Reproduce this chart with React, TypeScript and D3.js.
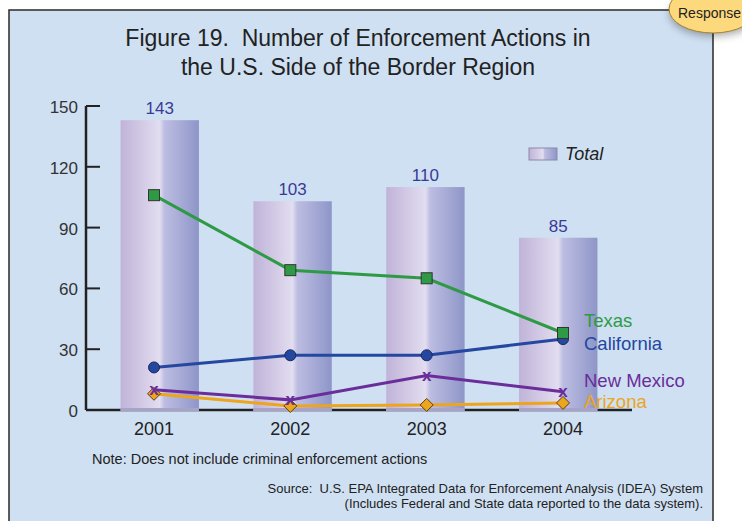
import React from "react";
import * as d3 from "d3";

const years = ["2001", "2002", "2003", "2004"];
const totals = [143, 103, 110, 85];
const texas = [106, 69, 65, 38];
const california = [21, 27, 27, 35];
const newMexico = [10, 5, 17, 9];
const arizona = [8, 2, 2.5, 3.5];
const yTicks = [0, 30, 60, 90, 120, 150];

const W = 742;
const H = 521;
const FONT = "'Liberation Sans', Arial, sans-serif";

const series = [
  { name: "Texas", values: texas, color: "#2e9a45", marker: "square", ly: 327 },
  { name: "California", values: california, color: "#2447a0", marker: "circle", ly: 350 },
  { name: "New Mexico", values: newMexico, color: "#6a2d9a", marker: "x", ly: 387 },
  { name: "Arizona", values: arizona, color: "#eca51c", marker: "diamond", ly: 408 },
];

export default function App() {
  const y = d3.scaleLinear().domain([0, 150]).range([410, 106]);
  const xBand = d3.scaleBand().domain(years).range([94, 624]).paddingInner(0.41).paddingOuter(0.2);
  const xPt = d3.scalePoint().domain(years).range([154, 563]);
  const line = d3
    .line<number>()
    .x((_, i) => xPt(years[i]) as number)
    .y((d) => y(d));

  const marker = (type: string, cx: number, cy: number, color: string, key: string) => {
    if (type === "square")
      return <rect key={key} x={cx - 5.5} y={cy - 5.5} width={11} height={11} fill={color} stroke="#333" strokeWidth={1} />;
    if (type === "circle")
      return <circle key={key} cx={cx} cy={cy} r={5.5} fill={color} stroke="#1a2a5a" strokeWidth={1} />;
    if (type === "diamond")
      return (
        <path key={key} d={`M${cx},${cy - 6.5}L${cx + 6.5},${cy}L${cx},${cy + 6.5}L${cx - 6.5},${cy}Z`} fill={color} stroke="#5a4010" strokeWidth={1} />
      );
    return (
      <text key={key} x={cx} y={cy + 5} textAnchor="middle" fontFamily={FONT} fontWeight="bold" fontSize={17} fill={color}>
        x
      </text>
    );
  };

  return (
    <svg width={W} height={H} style={{ position: "absolute", left: 0, top: 0 }}>
      <defs>
        <linearGradient id="barGrad" x1="0" x2="1" y1="0" y2="0">
          <stop offset="0" stopColor="#c0b3d8" />
          <stop offset="0.5" stopColor="#e2ddf0" />
          <stop offset="0.56" stopColor="#bdbde2" />
          <stop offset="1" stopColor="#8e96c8" />
        </linearGradient>
        <filter id="blur" x="-50%" y="-50%" width="200%" height="200%">
          <feGaussianBlur stdDeviation="4" />
        </filter>
      </defs>
      <rect x={0} y={0} width={W} height={H} fill="#ffffff" />
      <rect x={9} y={10} width={704} height={H} fill="#cfe0f2" stroke="#2a2a2a" strokeWidth={1.5} />

      <text x={358} y={46} textAnchor="middle" fontFamily={FONT} fontSize={23} fill="#222" style={{ whiteSpace: "pre" }}>
        Figure 19.  Number of Enforcement Actions in
      </text>
      <text x={358} y={75} textAnchor="middle" fontFamily={FONT} fontSize={23} fill="#222">
        the U.S. Side of the Border Region
      </text>

      {/* axes */}
      <line x1={86} x2={632} y1={y(0)} y2={y(0)} stroke="#222" strokeWidth={2.5} />
      <line x1={86} x2={86} y1={y(150)} y2={y(0)} stroke="#222" strokeWidth={2.5} />
      {yTicks.map((t) => (
        <g key={t}>
          <line x1={86} x2={100} y1={y(t)} y2={y(t)} stroke="#222" strokeWidth={2} />
          <text x={78} y={y(t) + 7} textAnchor="end" fontFamily={FONT} fontSize={17} fill="#333">
            {t}
          </text>
        </g>
      ))}

      {/* bars */}
      {years.map((yr, i) => (
        <g key={yr}>
          <rect x={xBand(yr)} y={y(totals[i])} width={xBand.bandwidth()} height={y(0) - y(totals[i]) + 1} fill="url(#barGrad)" />
          <rect x={xBand(yr)} y={y(0) - 2} width={xBand.bandwidth()} height={3} fill="#a9a3c9" />
          <text x={(xBand(yr) as number) + xBand.bandwidth() / 2} y={y(totals[i]) - 6} textAnchor="middle" fontFamily={FONT} fontSize={17} fill="#3a3a98">
            {totals[i]}
          </text>
        </g>
      ))}

      {/* year labels */}
      {years.map((yr) => (
        <text key={yr} x={xPt(yr)} y={435} textAnchor="middle" fontFamily={FONT} fontSize={18} fill="#222">
          {yr}
        </text>
      ))}

      {/* lines */}
      {[...series].reverse().map((s) => (
        <g key={s.name}>
          <path d={line(s.values) as string} fill="none" stroke={s.color} strokeWidth={3} />
          {s.values.map((v, i) => marker(s.marker, xPt(years[i]) as number, y(v), s.color, s.name + i))}
        </g>
      ))}
      {series.map((s) => (
        <text key={s.name} x={584} y={s.ly} fontFamily={FONT} fontSize={18.5} fill={s.color}>
          {s.name}
        </text>
      ))}

      {/* legend */}
      <rect x={529} y={148} width={28} height={12} fill="url(#barGrad)" stroke="#8a8aa8" strokeWidth={1} />
      <text x={565} y={160} fontFamily={FONT} fontStyle="italic" fontSize={18} fill="#222">
        Total
      </text>

      <text x={92} y={464} fontFamily={FONT} fontSize={14.5} fill="#222">
        Note: Does not include criminal enforcement actions
      </text>
      <text x={703} y={493} textAnchor="end" fontFamily={FONT} fontSize={13} fill="#222" style={{ whiteSpace: "pre" }}>
        Source:  U.S. EPA Integrated Data for Enforcement Analysis (IDEA) System
      </text>
      <text x={703} y={508} textAnchor="end" fontFamily={FONT} fontSize={13} fill="#222">
        (Includes Federal and State data reported to the data system).
      </text>

      {/* Response badge */}
      <ellipse cx={714} cy={14} rx={44} ry={22} fill="#000" opacity={0.35} filter="url(#blur)" />
      <ellipse cx={713} cy={9} rx={44} ry={24} fill="#fcd97c" stroke="#a8822c" strokeWidth={1} />
      <text x={678} y={18} fontFamily={FONT} fontSize={14} fill="#222">
        Response
      </text>
    </svg>
  );
}
